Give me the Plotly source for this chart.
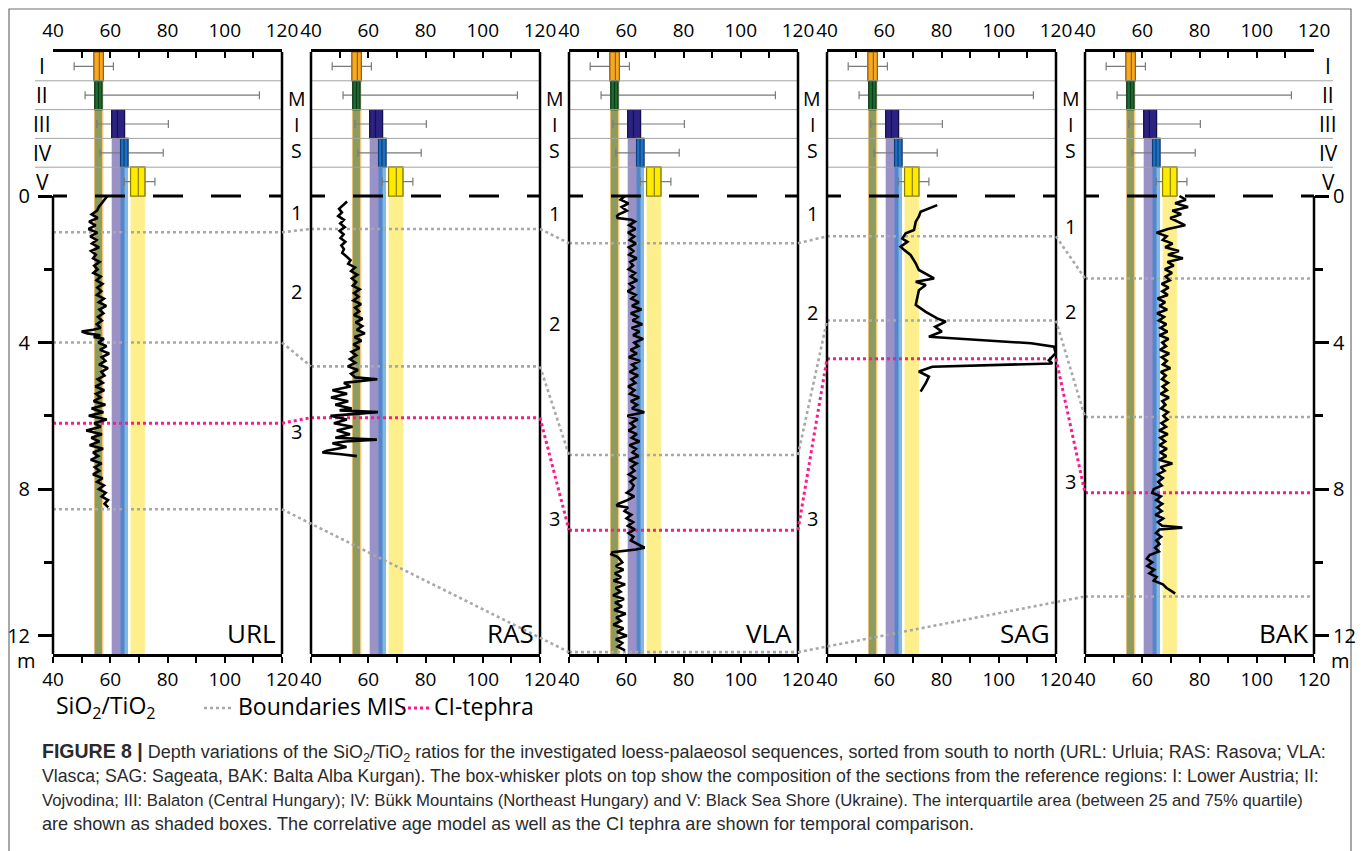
import plotly.graph_objects as go

W, H = 1363, 851

# ------------------------------------------------------------------ data
site_names = ["URL", "RAS", "VLA", "SAG", "BAK"]
region_labels = ["I", "II", "III", "IV", "V"]

# box-whisker statistics of the reference regions (SiO2/TiO2)
ref_q1 = [54.3, 54.6, 60.5, 63.6, 67.1]
ref_med = [56.2, 55.9, 62.5, 64.8, 69.8]
ref_q3 = [57.6, 57.1, 65.0, 66.2, 72.1]
ref_lo = [47.4, 51.2, 55.3, 56.4, 64.9]
ref_hi = [61.1, 112.1, 80.3, 78.5, 75.6]

url_depth = [0.0, 0.1, 0.2, 0.3, 0.4, 0.5, 0.6, 0.7, 0.8, 0.9,
             1.0, 1.1, 1.2, 1.3, 1.4, 1.5, 1.6, 1.7, 1.8, 1.9,
             2.0, 2.1, 2.2, 2.3, 2.4, 2.5, 2.6, 2.7, 2.8, 2.9,
             3.0, 3.1, 3.2, 3.3, 3.4, 3.5, 3.6,
             3.65, 3.7, 3.75, 3.8, 3.85, 3.9,
             4.0, 4.1, 4.2, 4.3, 4.4, 4.5, 4.6, 4.7, 4.8, 4.9,
             5.0, 5.1, 5.2, 5.3, 5.4, 5.5, 5.6, 5.7, 5.8, 5.9,
             6.0, 6.1, 6.2, 6.3, 6.4, 6.5, 6.6, 6.7, 6.8, 6.9,
             7.0, 7.1, 7.2, 7.3, 7.4, 7.5, 7.6, 7.7, 7.8, 7.9,
             8.0, 8.1, 8.2, 8.3, 8.4, 8.5]
url_ratio = [59.0, 58.0, 57.2, 56.0, 55.4, 53.5, 55.6, 52.6, 54.9, 52.4,
             55.5, 53.0, 55.2, 53.6, 56.1, 53.3, 55.0, 54.0, 56.3, 54.4,
             55.6, 54.1, 56.7, 55.2, 57.3, 55.5, 56.9, 55.3, 57.8, 56.0,
             58.6, 56.2, 57.6, 55.7, 57.1, 55.3, 56.6,
             54.0, 50.0, 52.0, 56.5, 54.2, 57.8,
             55.8, 58.7, 56.4, 59.6, 57.0, 58.3, 56.1, 59.2, 56.9, 58.0,
             55.6, 57.4, 54.8, 57.9, 55.0, 56.6, 54.2, 58.3, 53.5, 57.6,
             52.5, 58.8, 54.4, 56.7, 51.6, 57.1, 53.4, 56.2, 52.8, 57.5,
             54.0, 55.8, 53.2, 57.0, 54.6, 56.2, 54.0, 57.3, 55.4, 57.8,
             56.0, 58.4, 57.0, 59.2, 58.0, 59.3]

ras_depth = [0.15, 0.25, 0.35, 0.45, 0.55, 0.65, 0.75, 0.85, 0.95, 1.05,
             1.15, 1.25, 1.35, 1.45, 1.55, 1.65, 1.75, 1.85, 1.95, 2.05,
             2.15, 2.25, 2.35, 2.45, 2.55, 2.65, 2.75, 2.85, 2.95, 3.05,
             3.15, 3.25, 3.35, 3.45, 3.55, 3.65, 3.75, 3.85, 3.95, 4.05,
             4.15, 4.25, 4.35, 4.45, 4.55, 4.65, 4.75, 4.85, 4.95,
             5.0, 5.1, 5.2, 5.3, 5.4, 5.5, 5.6, 5.7, 5.8,
             5.85, 5.9, 5.95,
             6.0, 6.1, 6.2, 6.3, 6.4, 6.5, 6.6,
             6.65, 6.7, 6.75,
             6.85, 6.95, 7.0, 7.05, 7.1]
ras_ratio = [52.6, 51.0, 49.8, 50.8, 49.5, 51.5, 50.2, 51.8, 50.0, 51.4,
             50.3, 52.0, 50.6, 51.5, 50.9, 52.4, 53.8, 53.0, 55.4, 54.0,
             56.2, 54.3, 55.8, 54.6, 57.0, 55.0, 56.6, 54.8, 57.5, 55.4,
             56.8, 55.0, 58.0, 55.6, 57.9, 56.0, 58.8, 55.2, 57.6, 54.8,
             56.9, 54.2, 55.8, 53.6, 55.5, 52.9, 56.4, 54.0, 55.5,
             63.2, 51.5, 53.8, 47.5, 52.6, 47.0, 53.0, 48.5, 54.2,
             50.0, 63.4, 53.0,
             46.8, 52.5, 48.0, 54.5, 49.0, 53.6, 48.5,
             63.0, 52.0, 47.5,
             52.4, 45.5, 44.0, 50.5, 56.0]

vla_depth = [0.0, 0.1, 0.2, 0.3, 0.4, 0.5, 0.55, 0.6, 0.65,
             0.7, 0.8, 0.9, 1.0, 1.1, 1.2, 1.3, 1.4, 1.5, 1.6,
             1.7, 1.8, 1.9, 2.0, 2.1, 2.2, 2.3, 2.4, 2.5, 2.6,
             2.7, 2.8, 2.9, 3.0, 3.1, 3.2, 3.3, 3.4, 3.5, 3.6,
             3.7, 3.8, 3.9, 4.0, 4.1, 4.2, 4.3, 4.4, 4.5, 4.6,
             4.7, 4.8, 4.9, 5.0, 5.1, 5.2, 5.3, 5.4, 5.5, 5.6,
             5.7, 5.8, 5.9, 6.0, 6.1, 6.2, 6.3, 6.4, 6.5, 6.6,
             6.7, 6.8, 6.9, 7.0, 7.1, 7.2, 7.3, 7.4, 7.5, 7.6,
             7.7, 7.8, 7.9, 8.0, 8.1, 8.2, 8.3,
             8.4, 8.45, 8.5, 8.6, 8.7, 8.8, 8.9, 9.0, 9.1, 9.2,
             9.3, 9.4, 9.5, 9.6, 9.65, 9.72, 9.78, 9.85, 9.9,
             10.0, 10.1, 10.2, 10.3, 10.4, 10.5, 10.6, 10.7, 10.8, 10.9,
             11.0, 11.1, 11.2, 11.3, 11.4, 11.5, 11.6, 11.7, 11.8, 11.9,
             12.0, 12.1, 12.2, 12.3, 12.4]
vla_ratio = [59.5, 58.0, 60.8, 58.4, 60.2, 57.4, 56.8, 57.0, 61.8,
             63.0, 61.0, 63.2, 60.6, 62.8, 61.2, 63.4, 60.9, 62.5, 61.0,
             63.6, 61.4, 62.4, 60.8, 63.1, 61.6, 63.8, 61.2, 62.6, 60.5,
             63.3, 61.8, 64.4, 62.0, 65.3, 61.6, 64.0, 62.2, 65.6, 61.9,
             64.6, 62.4, 65.9, 62.8, 64.2, 61.5, 63.7, 60.9, 64.8, 62.0,
             63.5, 61.2, 64.1, 61.8, 63.2, 60.7, 62.9, 61.3, 64.5, 61.6,
             63.8, 62.0, 66.3, 60.4, 64.0, 61.5, 63.0, 60.8, 63.7, 61.9,
             64.6, 61.1, 63.4, 62.2, 64.3, 61.0, 63.6, 61.7, 62.9, 60.9,
             63.1, 61.4, 62.6, 62.0, 60.2, 62.8, 60.4,
             57.2, 56.6, 60.6, 59.4, 61.8, 60.1, 62.4, 60.6, 63.0, 60.8,
             62.5, 61.6, 64.0, 66.4, 63.4, 55.2, 54.8, 56.9, 57.6,
             58.6, 56.4, 59.0, 56.0, 58.2, 55.6, 59.6, 56.3, 58.0, 55.4,
             59.2, 56.1, 58.5, 55.8, 59.8, 56.5, 58.1, 55.5, 59.0, 56.8,
             60.2, 56.4, 58.6, 57.0, 59.6]

sag_depth = [0.25, 0.43, 0.56, 0.70, 0.93, 1.02, 1.16, 1.25, 1.38, 1.47,
             1.61, 1.84, 2.02, 2.25, 2.34, 2.43, 2.57, 2.97, 3.16, 3.34,
             3.43, 3.57, 3.70, 3.84, 4.02, 4.11, 4.29, 4.48, 4.57, 4.66,
             4.79, 4.93, 5.11, 5.34]
sag_ratio = [78.5, 72.7, 72.1, 71.0, 70.4, 67.5, 66.3, 68.1, 65.7, 66.9,
             69.2, 71.0, 72.1, 77.4, 71.0, 74.5, 72.1, 71.0, 74.5, 78.5,
             81.5, 77.8, 80.1, 75.6, 111.3, 119.3, 119.9, 117.5, 118.7, 76.8,
             72.1, 75.6, 74.5, 72.7]

bak_depth = [0.0, 0.1, 0.2, 0.3, 0.4, 0.5, 0.6, 0.7, 0.8, 0.9,
             1.0, 1.1, 1.2, 1.3, 1.4, 1.5, 1.6, 1.7, 1.8, 1.9,
             2.0, 2.1, 2.2, 2.3, 2.4, 2.5, 2.6, 2.7, 2.8, 2.9,
             3.0, 3.1, 3.2, 3.3, 3.4, 3.5, 3.6, 3.7, 3.8, 3.9,
             4.0, 4.1, 4.2, 4.3, 4.4, 4.5, 4.6, 4.7, 4.8, 4.9,
             5.0, 5.1, 5.2, 5.3, 5.4, 5.5, 5.6, 5.7, 5.8, 5.9,
             6.0, 6.1, 6.2, 6.3, 6.4, 6.5, 6.6, 6.7, 6.8, 6.9,
             7.0, 7.1, 7.2, 7.3, 7.4, 7.5, 7.6, 7.7, 7.8, 7.9,
             8.0, 8.1, 8.2, 8.3, 8.4, 8.5, 8.6, 8.7, 8.8, 8.9,
             9.0, 9.05,
             9.1, 9.2, 9.3, 9.4, 9.5, 9.6, 9.7, 9.8, 9.9, 10.0,
             10.1, 10.2, 10.3, 10.4, 10.5, 10.6, 10.7, 10.8,
             10.85]
bak_ratio = [73.0, 75.2, 71.5, 76.0, 70.5, 73.6, 69.8, 72.4, 75.0, 69.0,
             65.0, 68.5, 67.2, 70.6, 68.0, 72.8, 69.0, 74.2, 68.8, 71.0,
             67.9, 70.4, 68.2, 69.6, 66.8, 69.2, 67.0, 68.9, 65.4, 68.0,
             66.0, 68.7, 65.2, 67.6, 65.8, 68.4, 66.4, 68.8, 66.0, 69.2,
             67.0, 68.3, 66.2, 69.4, 66.8, 68.6, 67.2, 69.8, 66.5, 68.2,
             66.9, 69.0, 67.1, 68.6, 66.4, 69.3, 67.0, 68.1, 66.6, 69.0,
             67.4, 68.8, 66.7, 68.3, 65.9, 68.9, 66.3, 68.0, 66.0, 68.6,
             66.2, 68.4, 65.8, 70.5, 66.4, 67.8, 65.4, 67.2, 65.6, 66.8,
             64.0, 63.5, 66.5, 64.9, 67.0, 65.2, 66.8, 64.6, 67.3, 65.5,
             66.9, 74.0,
             66.0, 64.8, 66.6, 64.9, 66.0, 64.5, 65.8, 62.6, 61.6, 63.5,
             61.8, 64.2, 62.5, 65.0, 64.0, 67.2, 68.5, 70.5,
             71.5]

# MIS boundaries and CI tephra depth (m) per site (None = not reached)
mis_1_2 = [0.99, 0.90, 1.29, 1.10, 2.25]
mis_2_3 = [4.00, 4.65, 7.07, 3.40, 6.03]
mis_3_4 = [8.55, None, 12.45, None, 10.93]
ci_tephra = [6.20, 6.05, 9.12, 4.44, 8.10]

# MIS numbers written between the columns (depth of label)
mis_numbers = ["1", "2", "3"]
mis_number_depth = [[0.46, 2.62, 6.44],
                    [0.49, 3.47, 8.81],
                    [0.49, 3.19, 8.79],
                    [0.82, 3.14, 7.80]]

depth_ticks = [0, 4, 8, 12]
depth_minor = [2, 6, 10]
ratio_ticks = [40, 60, 80, 100, 120]
ratio_minor = [50, 70, 90, 110]

caption_lines = [
    "<span style='font-size:19.5px'><b>FIGURE 8 |</b></span> Depth variations of the "
    "SiO<sub>2</sub>/TiO<sub>2</sub> ratios for the investigated "
    "loess-palaeosol sequences, sorted from south to north (URL: Urluia; RAS: Rasova; VLA:",
    "Vlasca; SAG: Sageata, BAK: Balta Alba Kurgan). The box-whisker plots on top show the composition "
    "of the sections from the reference regions: I: Lower Austria; II:",
    "Vojvodina; III: Balaton (Central Hungary); IV: Bükk Mountains (Northeast Hungary) and V: Black Sea "
    "Shore (Ukraine). The interquartile area (between 25 and 75% quartile)",
    "are shown as shaded boxes. The correlative age model as well as the CI tephra are shown for "
    "temporal comparison.",
]

# ------------------------------------------------------------------ style / layout
FONT = "Open Sans"
box_fill = ["#f7a823", "#1d6b30", "#2c2282", "#1f70c2", "#ffeb00"]
box_edge = ["#9a5f05", "#0c3a18", "#14104a", "#0e3f78", "#8c7f00"]
band_fill = ["#f6c97c", "#8c9b60", "#9a92c7", "rgba(25,125,205,0.55)", "#fcef8c"]
GRAY_DOT = "#a8a8a8"
PINK = "#ff1a8c"
CAPTION_SIZES = [18.0, 17.7, 16.7, 18.1]

PANEL_LEFT = [53, 311, 569, 827, 1085]
PANEL_W = 229
TOP_PX, BOT_PX = 52, 654
Y_BOTTOM, Y_TOP = 12.5, -3.93
ROW_H = (0 - Y_TOP) / 5


def px(x):
    return x / W


def py(y):
    return 1 - y / H


def xa(i):
    return "x" if i == 0 else f"x{i + 1}"


fig = go.Figure()

row_center = [Y_TOP + ROW_H * (k + 0.5) for k in range(5)]

# box-whisker plots (reference regions) in each panel
for i in range(5):
    for k in range(5):
        fig.add_trace(go.Box(
            y=[row_center[k]], q1=[ref_q1[k]], median=[ref_med[k]], q3=[ref_q3[k]],
            lowerfence=[ref_lo[k]], upperfence=[ref_hi[k]], orientation="h",
            width=ROW_H, whiskerwidth=0.28, fillcolor="rgba(0,0,0,0)",
            line=dict(color="#7a7a7a", width=1.2), boxpoints=False,
            xaxis=xa(i), yaxis="y", showlegend=False, hoverinfo="skip"))
        fig.add_trace(go.Box(
            y=[row_center[k]], q1=[ref_q1[k]], median=[ref_med[k]], q3=[ref_q3[k]],
            lowerfence=[ref_q1[k]], upperfence=[ref_q3[k]], orientation="h",
            width=ROW_H, whiskerwidth=0, fillcolor=box_fill[k],
            line=dict(color=box_edge[k], width=1.2), boxpoints=False,
            xaxis=xa(i), yaxis="y", showlegend=False, hoverinfo="skip"))

# depth profiles
profiles = [(url_depth, url_ratio), (ras_depth, ras_ratio), (vla_depth, vla_ratio),
            (sag_depth, sag_ratio), (bak_depth, bak_ratio)]
for i, (d, r) in enumerate(profiles):
    fig.add_trace(go.Scatter(x=r, y=d, xaxis=xa(i), yaxis="y", mode="lines",
                             line=dict(color="black", width=2.6),
                             showlegend=False, hoverinfo="skip"))

# invisible anchors for the top axes and the right depth axis
for i in range(5):
    fig.add_trace(go.Scatter(x=[ratio_ticks[0], ratio_ticks[-1]], y=[0, 0],
                             xaxis=f"x{i + 6}", yaxis="y", mode="markers",
                             marker=dict(opacity=0), showlegend=False, hoverinfo="skip"))
fig.add_trace(go.Scatter(x=[ratio_ticks[0]], y=[0], xaxis="x5", yaxis="y2", mode="markers",
                         marker=dict(opacity=0), showlegend=False, hoverinfo="skip"))

layout = dict(
    width=W, height=H, margin=dict(l=0, r=0, t=0, b=0, autoexpand=False),
    paper_bgcolor="white", plot_bgcolor="rgba(0,0,0,0)",
    showlegend=False, boxmode="overlay", hovermode=False,
    font=dict(family=FONT, color="black"),
)

tickfont = dict(family=FONT, size=19, color="black")
for i in range(5):
    dom = [px(PANEL_LEFT[i]), px(PANEL_LEFT[i] + PANEL_W)]
    common = dict(domain=dom, range=[40, 120], anchor="y",
                  showline=True, linecolor="black", linewidth=2.5,
                  ticklen=6, tickwidth=2, tickcolor="black",
                  tickmode="array", tickvals=ratio_ticks,
                  tickfont=tickfont, showgrid=False, zeroline=False, fixedrange=True)
    bottom = dict(common, side="bottom", ticks="outside", ticklabelstandoff=0,
                  minor=dict(tickmode="array", tickvals=ratio_minor, ticks="outside",
                             ticklen=6, tickwidth=2, tickcolor="black"))
    top = dict(common, side="top", overlaying=xa(i), ticks="inside", ticklabelstandoff=5,
               minor=dict(tickmode="array", tickvals=ratio_minor, ticks="inside",
                          ticklen=6, tickwidth=2, tickcolor="black"))
    layout["xaxis" if i == 0 else f"xaxis{i + 1}"] = bottom
    layout[f"xaxis{i + 6}"] = top

ydom = [py(BOT_PX), py(TOP_PX)]
yax = dict(domain=ydom, range=[Y_BOTTOM, Y_TOP], showline=False,
           ticks="outside", ticklen=14, tickwidth=2.5, tickcolor="black",
           tickmode="array", tickvals=depth_ticks,
           minor=dict(tickmode="array", tickvals=depth_minor, ticks="outside",
                      ticklen=8, tickwidth=2.5, tickcolor="black"),
           tickfont=dict(family=FONT, size=20, color="black"),
           showgrid=False, zeroline=False, fixedrange=True)
layout["yaxis"] = dict(yax, anchor="x", side="left", ticklabelstandoff=4)
layout["yaxis2"] = dict(yax, anchor="x5", side="right", overlaying="y", ticklabelstandoff=0)

shapes = []
annotations = []

# outer frame
shapes.append(dict(type="rect", xref="paper", yref="paper", x0=px(9), x1=px(1351),
                   y0=-0.05, y1=py(9), line=dict(color="#6f6f6f", width=1.2),
                   fillcolor="rgba(0,0,0,0)", layer="below"))

for i in range(5):
    L = PANEL_LEFT[i]
    R = L + PANEL_W
    # shaded interquartile bands
    for k in range(5):
        shapes.append(dict(type="rect", xref=xa(i), yref="y",
                           x0=ref_q1[k], x1=ref_q3[k],
                           y0=Y_TOP + ROW_H * (k + 1), y1=Y_BOTTOM,
                           fillcolor=band_fill[k], line=dict(width=0), layer="below"))
    # boundary / tephra lines across the panel
    for series, col, wd in ((mis_1_2, GRAY_DOT, 2.6), (mis_2_3, GRAY_DOT, 2.6),
                            (mis_3_4, GRAY_DOT, 2.6), (ci_tephra, PINK, 3)):
        if series[i] is not None:
            shapes.append(dict(type="line", xref=xa(i), yref="y", x0=40, x1=120,
                               y0=series[i], y1=series[i],
                               line=dict(color=col, width=wd, dash="dot"), layer="below"))
    # row separators of the box-whisker area
    lx = 35 if i == 0 else L
    rx = 1333 if i == 4 else R
    for k in range(1, 5):
        yk = Y_TOP + ROW_H * k
        shapes.append(dict(type="line", xref="paper", yref="y", x0=px(lx), x1=px(rx),
                           y0=yk, y1=yk, line=dict(color="#a3a3a3", width=1), layer="above"))
    # depth-zero dashed line
    shapes.append(dict(type="line", xref="paper", yref="y", x0=px(L), x1=px(R), y0=0, y1=0,
                       line=dict(color="black", width=3,
                                 dash="14px,28px,30px,28px,30px,28px,30px,28px,30px,28px"),
                       layer="above"))
    # spines
    ytop_left = 0 if i == 0 else Y_TOP
    ytop_right = 0 if i == 4 else Y_TOP
    shapes.append(dict(type="line", xref="paper", yref="y", x0=px(L), x1=px(L),
                       y0=ytop_left, y1=Y_BOTTOM, line=dict(color="black", width=2.5), layer="above"))
    shapes.append(dict(type="line", xref="paper", yref="y", x0=px(R), x1=px(R),
                       y0=ytop_right, y1=Y_BOTTOM, line=dict(color="black", width=2.5), layer="above"))
    # site name
    annotations.append(dict(text=site_names[i], xref="paper", yref="paper",
                            x=px(R - 4), y=py(633), xanchor="right", yanchor="middle",
                            showarrow=False, font=dict(family=FONT, size=26, color="black")))

# connectors between neighbouring columns
for series, col, wd in ((mis_1_2, GRAY_DOT, 2.6), (mis_2_3, GRAY_DOT, 2.6),
                        (mis_3_4, GRAY_DOT, 2.6), (ci_tephra, PINK, 3)):
    idx = [i for i, v in enumerate(series) if v is not None]
    for a, b in zip(idx[:-1], idx[1:]):
        shapes.append(dict(type="line", xref="paper", yref="y",
                           x0=px(PANEL_LEFT[a] + PANEL_W), x1=px(PANEL_LEFT[b]),
                           y0=series[a], y1=series[b],
                           line=dict(color=col, width=wd, dash="dot"), layer="above"))

# region labels left and right
for k in range(5):
    for xpos in (42, 1328):
        annotations.append(dict(text=region_labels[k], xref="paper", yref="y",
                                x=px(xpos), y=row_center[k], xanchor="center", yanchor="middle",
                                showarrow=False, height=24,
                                font=dict(family=FONT, size=21, color="black")))

# "MIS" and stage numbers in the gaps
for g in range(4):
    gx = (PANEL_LEFT[g] + PANEL_W + PANEL_LEFT[g + 1]) / 2
    for letter, yy in zip(["M", "I", "S"], [98, 124, 150]):
        annotations.append(dict(text=letter, xref="paper", yref="paper", x=px(gx), y=py(yy),
                                xanchor="center", yanchor="middle", showarrow=False,
                                height=22, font=dict(family=FONT, size=19.5, color="black")))
    for lab, dep in zip(mis_numbers, mis_number_depth[g]):
        annotations.append(dict(text=lab, xref="paper", yref="y", x=px(gx), y=dep,
                                xanchor="center", yanchor="middle", showarrow=False,
                                font=dict(family=FONT, size=20, color="black")))

# unit labels
for xpos in (26, 1340):
    annotations.append(dict(text="m", xref="paper", yref="paper", x=px(xpos), y=py(660),
                            xanchor="center", yanchor="middle", showarrow=False,
                            font=dict(family=FONT, size=20, color="black")))

# legend
LEG_Y = 706
annotations.append(dict(text="SiO<sub>2</sub>/TiO<sub>2</sub>", xref="paper", yref="paper",
                        x=px(54), y=py(LEG_Y), xanchor="left", yanchor="middle", showarrow=False,
                        font=dict(family=FONT, size=23, color="black")))
annotations.append(dict(text="Boundaries MIS", xref="paper", yref="paper",
                        x=px(236), y=py(LEG_Y), xanchor="left", yanchor="middle", showarrow=False,
                        font=dict(family=FONT, size=23, color="black")))
annotations.append(dict(text="CI-tephra", xref="paper", yref="paper",
                        x=px(432), y=py(LEG_Y), xanchor="left", yanchor="middle", showarrow=False,
                        font=dict(family=FONT, size=23, color="black")))
shapes.append(dict(type="line", xref="paper", yref="paper", x0=px(204), x1=px(233),
                   y0=py(LEG_Y + 2), y1=py(LEG_Y + 2), line=dict(color=GRAY_DOT, width=2.6, dash="dot"),
                   layer="above"))
shapes.append(dict(type="line", xref="paper", yref="paper", x0=px(402), x1=px(430),
                   y0=py(LEG_Y + 2), y1=py(LEG_Y + 2), line=dict(color=PINK, width=3, dash="dot"),
                   layer="above"))

# caption
for n, line in enumerate(caption_lines):
    annotations.append(dict(text=line, xref="paper", yref="paper", x=px(40), y=py(752 + 24 * n),
                            xanchor="left", yanchor="middle", showarrow=False, align="left",
                            font=dict(family="Liberation Sans", size=CAPTION_SIZES[n],
                                      color="#2a2a2a")))

layout["shapes"] = shapes
layout["annotations"] = annotations
fig.update_layout(**layout)

page_css = ("document.body.style.margin='0px';document.body.style.padding='0px';"
            "document.body.style.overflow='hidden';"
            "document.documentElement.style.overflow='hidden';")
fig.write_html("out.html", post_script=page_css, config={"displayModeBar": False})
